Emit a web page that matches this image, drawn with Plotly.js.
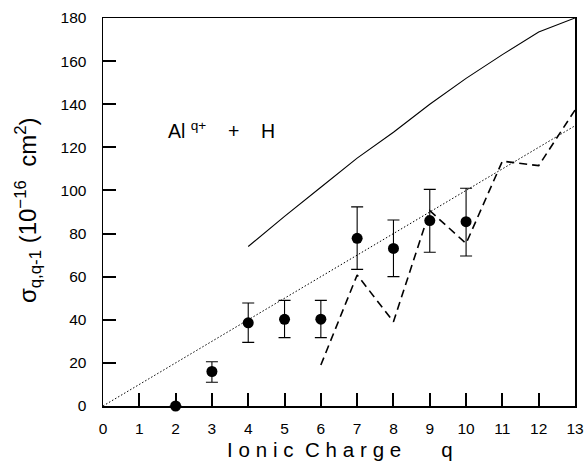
<!DOCTYPE html>
<html>
<head>
<meta charset="utf-8">
<script src="https://cdn.plot.ly/plotly-3.0.1.min.js"></script>
<style>html,body{margin:0;padding:0;background:#fff;}#chart{width:584px;height:461px;}</style>
</head>
<body>
<div id="chart"></div>
<script>
// Measured cross sections (points with error bars)
const expQ = [2, 3, 4, 5, 6, 7, 8, 9, 10];
const expSigma = [0, 16, 38.6, 40.2, 40.3, 77.8, 73.1, 86, 85.5];
const expErrPlus = [0, 4.5, 9.2, 8.8, 8.7, 14.6, 13.2, 14.5, 15.5];
const expErrMinus = [0, 5, 9.1, 8.5, 8.6, 14.4, 13.1, 14.7, 15.9];

// Solid theory curve
const solidQ = [4, 5, 6, 7, 8, 9, 10, 11, 12, 13];
const solidSigma = [74, 88, 101.5, 115, 127, 140, 152, 163, 173.5, 180];

// Dashed theory curve
const dashQ = [6, 7, 8, 9, 10, 11, 12, 13];
const dashSigma = [19, 60.8, 39.1, 90.6, 75.4, 113.6, 111.5, 137.3];

// Dotted scaling line
const dotQ = [0, 13];
const dotSigma = [0, 130];

const xTicks = [0,1,2,3,4,5,6,7,8,9,10,11,12,13];
const yTicks = [0,20,40,60,80,100,120,140,160,180];

const FONT = 'Liberation Sans, Arial, sans-serif';
const ts = '\u2009\u200a';
const nb = '\u00a0';
const xTitle = ['I','o','n','i','c'].join(ts) + nb + nb + ['C','h','a','r','g','e'].join(ts) + nb + nb + nb + nb + nb + nb + nb + 'q';
const yTitle = '\u03C3<sub>q,q-1</sub> (10<sup>\u221216</sup>' + nb + nb + 'cm<sup>2</sup>)';

const traces = [
  {x: dotQ, y: dotSigma, mode: 'lines', line: {color: '#000', width: 1, dash: '1.5px,2px'}, hoverinfo: 'skip'},
  {x: solidQ, y: solidSigma, mode: 'lines', line: {color: '#000', width: 1.1}, hoverinfo: 'skip'},
  {x: dashQ, y: dashSigma, mode: 'lines', line: {color: '#000', width: 1.6, dash: '8px,5px'}, hoverinfo: 'skip'},
  {x: expQ, y: expSigma, mode: 'markers', marker: {color: '#000', size: 11},
   error_y: {type: 'data', symmetric: false, array: expErrPlus, arrayminus: expErrMinus, color: '#000', thickness: 1.1, width: 6}, cliponaxis: false}
];

const layout = {
  width: 584, height: 461,
  margin: {l: 103, r: 9, t: 18, b: 55},
  paper_bgcolor: '#fff', plot_bgcolor: '#fff',
  showlegend: false,
  font: {family: FONT, color: '#000'},
  xaxis: {
    range: [0, 13], tickvals: xTicks, ticktext: xTicks.map(String),
    showgrid: false, zeroline: false,
    showline: true, linecolor: '#000', linewidth: 1.5, mirror: true,
    ticks: 'inside', ticklen: 13, tickwidth: 2, tickcolor: '#000',
    tickfont: {family: FONT, size: 15.5, color: '#000'},
    ticklabelstandoff: 8
  },
  yaxis: {
    range: [0, 180], tickvals: yTicks, ticktext: yTicks.map(String),
    showgrid: false, zeroline: false,
    showline: true, linecolor: '#000', linewidth: 1.5, mirror: true,
    ticks: 'inside', ticklen: 13, tickwidth: 2, tickcolor: '#000',
    tickfont: {family: FONT, size: 15.5, color: '#000'},
    ticklabelstandoff: 12
  },
  annotations: [
    {x: 3.26, y: 128, xref: 'x', yref: 'y', text: 'Al' + nb + '<sup>q+</sup>' + nb + nb + nb + nb + '+' + nb + nb + nb + nb + 'H', showarrow: false,
     font: {family: FONT, size: 19.5, color: '#000'}},
    {x: 0.502, y: 0, xref: 'paper', yref: 'paper', yanchor: 'middle', xanchor: 'center', yshift: -43, text: xTitle, showarrow: false,
     font: {family: FONT, size: 20.5, color: '#000'}},
    {x: 0, y: 0.505, xref: 'paper', yref: 'paper', xanchor: 'center', yanchor: 'middle', xshift: -75, textangle: -90, text: yTitle, showarrow: false,
     font: {family: FONT, size: 24, color: '#000'}}
  ]
};

Plotly.newPlot('chart', traces, layout, {staticPlot: true, displayModeBar: false});
</script>
</body>
</html>
